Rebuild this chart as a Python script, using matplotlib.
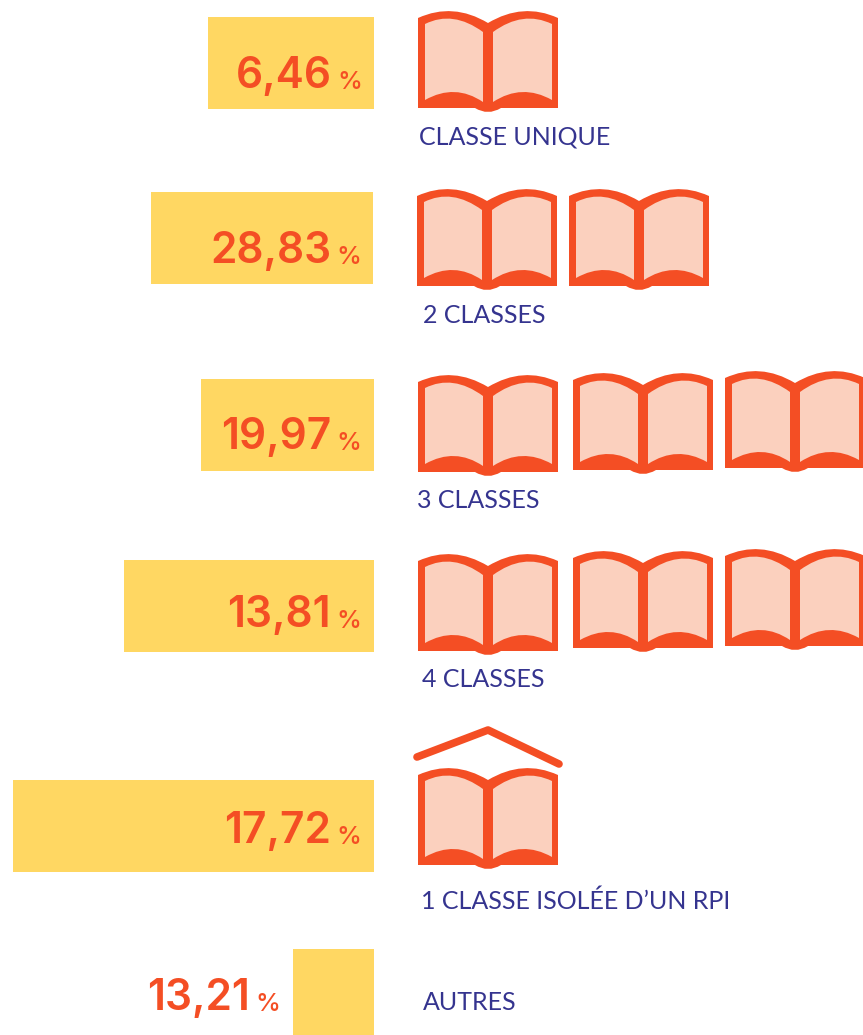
import matplotlib
matplotlib.use("Agg")
import matplotlib.pyplot as plt
from matplotlib.patches import PathPatch
from matplotlib.path import Path
from matplotlib.transforms import Affine2D

# Data
categories = ["CLASSE UNIQUE", "2 CLASSES", "3 CLASSES", "4 CLASSES",
              "1 CLASSE ISOLÉE D’UN RPI", "AUTRES"]
values = ["6,46", "28,83", "19,97", "13,81", "17,72", "13,21"]
bar_lengths = [166, 222, 173, 250, 361, 81]

# Layout, in picture pixels
bar_right = [374, 373, 374, 374, 374, 374]
bar_top = [17, 192, 379, 560, 780, 949]
bar_height = [92, 92, 92, 92, 92, 86]
number_right = [332, 331, 331, 331, 331, 250]
number_base = [88, 263, 449, 627, 843, 1010]
label_left = [419, 423, 417, 422, 421, 423]
label_base = [145, 323, 508, 687, 909, 1010]
# left edge and bottom edge of each book
books = [[(418, 108)],
         [(417, 286), (569, 286)],
         [(418, 472), (573, 470), (725, 468)],
         [(418, 651), (573, 648), (725, 646)],
         [(418, 865)]]

ORANGE = "#F44E24"
PAGE = "#FBD0BE"
YELLOW = "#FFD762"
BLUE = "#35348F"

# book shapes, origin at bottom left, y going up
M, L, C = Path.MOVETO, Path.LINETO, Path.CURVE3
outer_v = [(0, 0), (0, 90), (35, 106), (70, 85), (105, 106), (140, 90), (140, 0),
           (83, 0), (70, -8), (57, 0), (0, 0)]
outer_c = [M, L, C, C, C, C, L, L, C, C, L]
left_page_v = [(7, 8), (37, 25), (65, 6), (65, 76), (35, 98), (7, 84), (7, 8)]
left_page_c = [M, C, C, L, C, C, L]
right_page_v = [(75, 6), (104, 25), (134, 8), (134, 84), (105, 98), (75, 76), (75, 6)]
right_page_c = [M, C, C, L, C, C, L]


def draw_book(ax, x, y):
    move = Affine2D().scale(1, -1).translate(x, y) + ax.transData
    ax.add_patch(PathPatch(Path(outer_v, outer_c), fc=ORANGE, ec="none", transform=move))
    ax.add_patch(PathPatch(Path(left_page_v, left_page_c), fc=PAGE, ec="none", transform=move))
    ax.add_patch(PathPatch(Path(right_page_v, right_page_c), fc=PAGE, ec="none", transform=move))


plt.rcParams["font.family"] = ["Lato", "DejaVu Sans"]
fig = plt.figure(figsize=(8.63, 10.35), dpi=100)
ax = fig.add_axes([0, 0, 1, 1])
ax.set_xlim(0, 863)
ax.set_ylim(1035, 0)
ax.axis("off")

for i in range(len(categories)):
    ax.barh(bar_top[i], bar_lengths[i], height=bar_height[i], left=bar_right[i] - bar_lengths[i],
            align="edge", color=YELLOW)
    ax.text(number_right[i], number_base[i], values[i], color=ORANGE, fontsize=30.5,
            family="Inter", fontweight="semibold", ha="right", va="baseline")
    ax.text(number_right[i] + 5, number_base[i] + 1, "%", color=ORANGE, fontsize=18,
            family="Inter", fontweight="medium", ha="left", va="baseline")
    ax.text(label_left[i], label_base[i], categories[i], color=BLUE, fontsize=18,
            ha="left", va="baseline")

for row in books:
    for x, y in row:
        draw_book(ax, x, y)

# roof over the last book
ax.plot([417, 488, 559], [757, 730, 764], color=ORANGE, lw=5.5, solid_capstyle="round",
        solid_joinstyle="round")

fig.savefig("out.png", dpi=100)
